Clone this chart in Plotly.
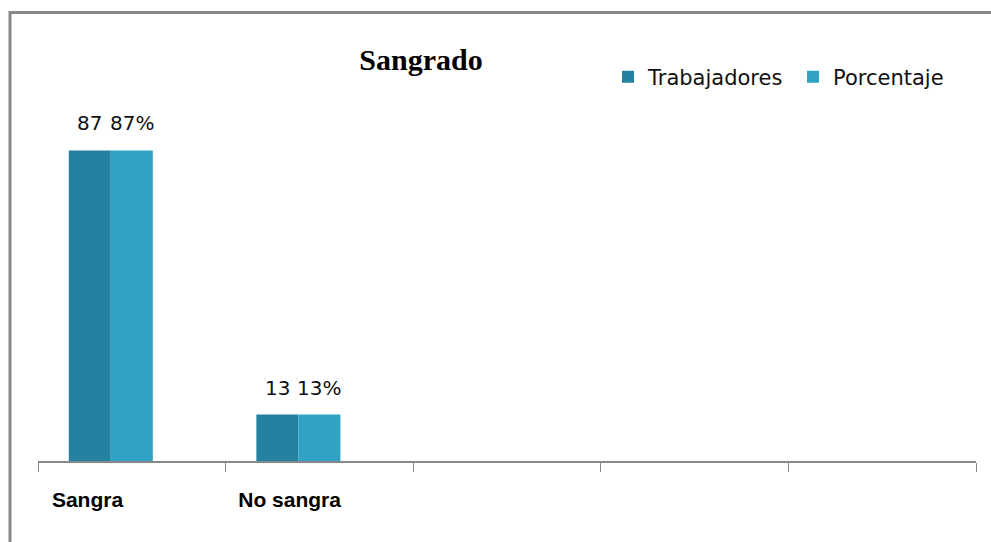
import plotly.graph_objects as go

# ---- data ----
slots = [0, 1, 2, 3, 4]                 # category slots on the axis
categories = ["Sangra", "No sangra"]
cat_x = [0, 1]
trabajadores = [87, 13]
porcentaje = [87, 13]
trab_text = ["87", "13"]
porc_text = ["87%", "13%"]
title_text = "Sangrado"

# ---- style ----
BAR_W = 0.224
C_TRAB = "#2581a0"
C_PORC = "#30a2c4"
AXIS_C = "#888888"

fig = go.Figure()
fig.add_trace(go.Bar(
    name="Trabajadores", x=cat_x, y=trabajadores,
    width=BAR_W, offset=-1.5 * BAR_W,
    marker=dict(color=C_TRAB, line=dict(width=0)),
))
fig.add_trace(go.Bar(
    name="Porcentaje", x=cat_x, y=porcentaje,
    width=BAR_W, offset=-0.5 * BAR_W,
    marker=dict(color=C_PORC, line=dict(width=0)),
))

# data labels above each bar
for xs, ys, ts, shift in [(cat_x, trabajadores, trab_text, -BAR_W),
                          (cat_x, porcentaje, porc_text, 0.0)]:
    for xv, yv, tv in zip(xs, ys, ts):
        fig.add_annotation(
            x=xv + shift, y=yv, text=tv, showarrow=False,
            xref="x", yref="y", yanchor="middle", yshift=27,
            font=dict(family="DejaVu Sans", size=20, color="#111111"),
        )

# category labels (positioned like the original, slightly left of slot centre)
label_pos = [-0.236, 0.841]

fig.update_layout(
    width=991, height=542,
    margin=dict(l=38, r=15, t=104, b=81, autoexpand=False),
    paper_bgcolor="white", plot_bgcolor="white",
    showlegend=True,
    title=dict(
        text="<b>" + title_text + "</b>",
        font=dict(family="Liberation Serif", size=30, color="#000000"),
        xref="container", yref="container",
        x=421 / 991, xanchor="center", y=1 - 59 / 542, yanchor="middle",
    ),
    legend=dict(
        orientation="h",
        xref="container", yref="container",
        x=608 / 991, xanchor="left", y=1 - 77 / 542, yanchor="middle",
        font=dict(family="DejaVu Sans", size=21, color="#111111"),
        itemwidth=30, traceorder="normal", entrywidth=140,
        bgcolor="rgba(0,0,0,0)",
    ),
    xaxis=dict(
        range=[-0.5, 4.5],
        showgrid=False, zeroline=False,
        showline=True, linecolor=AXIS_C, linewidth=2,
        tickmode="array", tickvals=label_pos,
        ticktext=["<b>" + c + "</b>" for c in categories],
        ticks="", ticklabelstandoff=19,
        tickfont=dict(family="Liberation Sans", size=21, color="#000000"),
        minor=dict(ticks="outside", tickvals=[s - 0.5 for s in slots] + [slots[-1] + 0.5],
                   ticklen=9, tickcolor=AXIS_C, tickwidth=1),
        fixedrange=True,
    ),
    yaxis=dict(
        range=[0, 100], visible=False, fixedrange=True,
    ),
    barmode="group",
)

# chart frame (extends past right and bottom edges like the original)
fig.add_shape(
    type="rect", xref="paper", yref="paper",
    x0=(10 - 38) / 938, x1=(1000 - 38) / 938,
    y0=(461 - 560) / 357, y1=(461 - 12.5) / 357,
    line=dict(color=AXIS_C, width=3), fillcolor="rgba(0,0,0,0)", layer="below",
)

fig.write_html("out.html", config={"displayModeBar": False},
               post_script="document.body.style.margin='0';")
